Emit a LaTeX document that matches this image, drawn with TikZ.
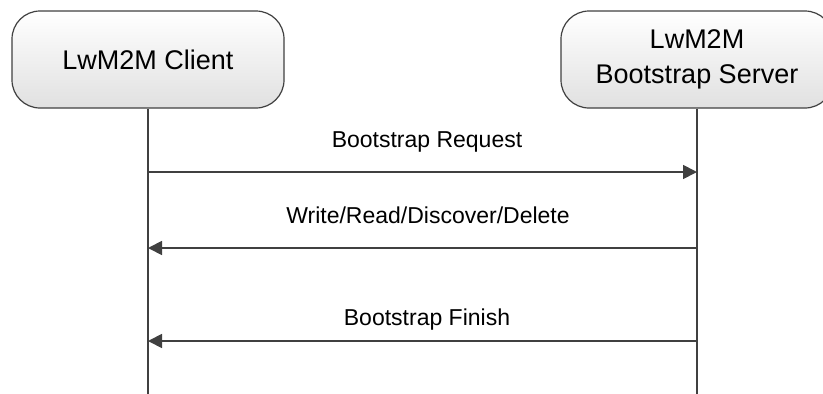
\documentclass[tikz,border=0pt]{standalone}
\usepackage{fontspec}
\setmainfont{Liberation Sans}
\usetikzlibrary{arrows.meta}
\definecolor{ln}{HTML}{404040}
\tikzset{
  actor/.style={draw=ln, line width=1.2pt, rounded corners=28pt, minimum width=272pt, minimum height=97pt,
    top color=white, bottom color=black!12, align=center, font=\fontsize{27}{35}\selectfont, inner sep=0pt},
  life/.style={draw=ln, line width=1.3pt},
  msg/.style={draw=ln, line width=1.8pt, -{Triangle[length=14pt,width=14pt]}},
  lbl/.style={anchor=base, font=\fontsize{23}{26}\selectfont, inner sep=0pt}
}
\begin{document}
\begin{tikzpicture}[x=1pt,y=-1pt]
\useasboundingbox (0,0) rectangle (823,394);
\node[actor] (client) at (148,59.5) {LwM2M Client};
\node[actor] (server) at (697,59.5) {LwM2M\\Bootstrap Server};
\coordinate (cb) at (148,396);
\coordinate (sb) at (697,396);
\draw[life] (client.south) -- (cb);
\draw[life] (server.south) -- (sb);
\coordinate (c1) at (148,172);
\coordinate (s1) at (697,172);
\coordinate (c2) at (148,248);
\coordinate (s2) at (697,248);
\coordinate (c3) at (148,341);
\coordinate (s3) at (697,341);
\draw[msg] (c1) -- (s1);
\draw[msg] (s2) -- (c2);
\draw[msg] (s3) -- (c3);
\node[lbl] (l1) at (427,147) {Bootstrap Request};
\node[lbl] (l2) at (428,223) {Write/Read/Discover/Delete};
\node[lbl] (l3) at (427,325) {Bootstrap Finish};
\end{tikzpicture}
\end{document}
